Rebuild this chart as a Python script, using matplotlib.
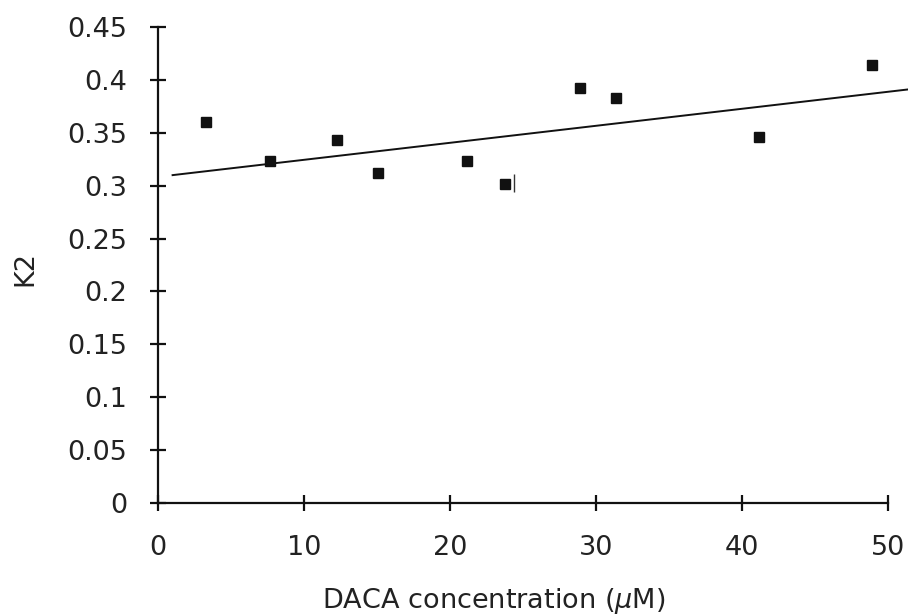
import matplotlib
matplotlib.use("Agg")
import matplotlib.pyplot as plt

# Datos
conc = [3.3, 7.7, 12.3, 15.1, 21.2, 23.8, 28.9, 31.4, 41.2, 48.9]
k2 = [0.360, 0.323, 0.343, 0.312, 0.323, 0.302, 0.392, 0.383, 0.346, 0.414]

# Recta de tendencia (extremos)
trend_x = [1.0, 51.4]
trend_y = [0.310, 0.391]

x_ticks = [0, 10, 20, 30, 40, 50]
y_ticks = [0, 0.05, 0.1, 0.15, 0.2, 0.25, 0.3, 0.35, 0.4, 0.45]
y_labels = ["0", "0.05", "0.1", "0.15", "0.2", "0.25", "0.3", "0.35", "0.4", "0.45"]

fs = 19.5

fig = plt.figure(figsize=(9.08, 6.16), dpi=100)
ax = fig.add_axes([0.174, 0.1834, 0.826, 0.7727])

ax.plot(trend_x, trend_y, color="#111111", lw=1.4, clip_on=False)
ax.plot(conc, k2, linestyle="none", marker="s", ms=6.5, color="#111111")
# pequena marca vertical junto al punto de 24 uM
ax.vlines(24.4, 0.294, 0.311, color="#333333", lw=1.0)

ax.set_xlim(0, 51.4)
ax.set_ylim(0, 0.45)
ax.set_xticks(x_ticks)
ax.set_yticks(y_ticks)
ax.set_yticklabels(y_labels)

for s in ["top", "right"]:
    ax.spines[s].set_visible(False)
ax.spines["bottom"].set_bounds(0, 50)
ax.spines["left"].set_bounds(0, 0.45)
for s in ["bottom", "left"]:
    ax.spines[s].set_linewidth(1.6)
    ax.spines[s].set_color("#111111")

ax.tick_params(axis="both", direction="inout", length=12, width=1.6,
               colors="#111111", labelsize=fs, labelcolor="#222222")
ax.tick_params(axis="x", pad=17)
ax.tick_params(axis="y", pad=16)

fig.text(494 / 908, 1 - 601 / 616, r"DACA concentration ($\mu$M)",
         ha="center", va="center", fontsize=fs, color="#222222")
fig.text(25 / 908, 1 - 268 / 616, "K2", rotation=90,
         ha="center", va="center", fontsize=fs, color="#222222")

fig.savefig("out.png", dpi=100)
